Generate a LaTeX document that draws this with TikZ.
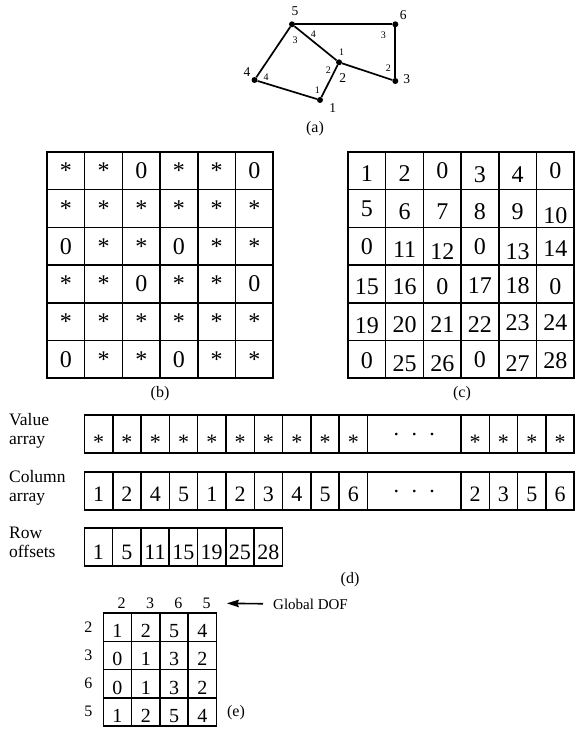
\documentclass[tikz,border=0pt]{standalone}
\usepackage{fontspec}
\setmainfont{Liberation Serif}
\usetikzlibrary{arrows.meta}
\newcommand\myfs[1]{\fontsize{#1}{#1}\selectfont}
\begin{document}
\begin{tikzpicture}[x=1pt,y=-1pt,
  gridln/.style={line width=1.5pt},
  vtx/.style={circle,fill=black,inner sep=0pt,minimum size=6pt},
  gedge/.style={line width=1.7pt},
  nlab/.style={inner sep=0pt,font=\myfs{13.5}},
  slab/.style={inner sep=0pt,font=\myfs{10}},
  caplab/.style={inner sep=0pt,font=\myfs{16}},
  mtxt/.style={inner sep=0pt,anchor=base,font=\myfs{24}},
  atxt/.style={inner sep=0pt,anchor=base,font=\myfs{22}},
  etxt/.style={inner sep=0pt,anchor=base,font=\myfs{20}},
  rowlbl/.style={inner sep=0pt,anchor=base west,font=\myfs{17.5}},
  dof/.style={inner sep=0pt,anchor=base,font=\myfs{16}},
  dofarrow/.style={line width=1.6pt,-{Stealth[length=12pt,width=7.5pt,inset=1.5pt]}},
]
\useasboundingbox (0,0) rectangle (576,730);

% ---------------- (a) graph ----------------
\node[vtx] (n5) at (292,24.3) {};
\node[vtx] (n6) at (395.3,24.3) {};
\node[vtx] (n3) at (395.3,81) {};
\node[vtx] (nc) at (339,62.3) {};
\node[vtx] (nb) at (320,100) {};
\node[vtx] (n4) at (254.5,80) {};
\draw[gedge] (n5) -- (n6);
\draw[gedge] (n6) -- (n3);
\draw[gedge] (n3) -- (nc);
\draw[gedge] (nc) -- (n5);
\draw[gedge] (nc) -- (nb);
\draw[gedge] (nb) -- (n4);
\draw[gedge] (n4) -- (n5);
\node[nlab] (l5) at (295,10.7) {5};
\node[nlab] (l6) at (403.3,15) {6};
\node[nlab] (l3) at (406.7,79.3) {3};
\node[nlab] (l1) at (332.7,108.3) {1};
\node[nlab] (l4) at (247,72) {4};
\node[slab] (s1) at (295,40) {3};
\node[slab] (s2) at (313.3,34) {4};
\node[slab] (s3) at (341.7,52.3) {1};
\node[slab] (s4) at (328.3,70) {2};
\node[nlab] (s5) at (342.7,78.3) {2};
\node[slab] (s6) at (383.3,35) {3};
\node[slab] (s7) at (388.3,68.3) {2};
\node[slab] (s8) at (317.3,90) {1};
\node[slab] (s9) at (266,77.3) {4};
\node[caplab] (capa) at (315,128.3) {(a)};

% ---------------- (b) matrix ----------------
\draw[gridln] (47,152) rectangle (273.2,378.2);
\foreach \i in {1,...,5}{
  \draw[gridln] ({47+\i*37.7},152) -- ({47+\i*37.7},378.2);
  \draw[gridln] (47,{152+\i*37.7}) -- (273.2,{152+\i*37.7});
}
\foreach \row [count=\r from 0] in {{*,*,0,*,*,0},{*,*,*,*,*,*},{0,*,*,0,*,*},{*,*,0,*,*,0},{*,*,*,*,*,*},{0,*,*,0,*,*}}{
  \foreach \v [count=\c from 0] in \row {
    \node[mtxt] (b-\r-\c) at ({47+18.85+\c*37.7},{152+18.85+\r*37.7+8}) {\v};
  }
}
\node[caplab] (capb) at (160,394) {(b)};

% ---------------- (c) matrix ----------------
\draw[gridln] (348,152) rectangle (574.2,378.2);
\foreach \i in {1,...,5}{
  \draw[gridln] ({348+\i*37.7},152) -- ({348+\i*37.7},378.2);
  \draw[gridln] (348,{152+\i*37.7}) -- (574.2,{152+\i*37.7});
}
\foreach \row [count=\r from 0] in {
  {1/3,2/3,0/0,3/4,4/4,0/0},
  {5/0,6/3,7/3,8/3,9/3,10/7},
  {0/0,11/3,12/5,0/0,13/5,14/2},
  {15/3,16/3,0/3,17/2,18/2,0/3},
  {19/4,20/3,21/3,22/3,23/1,24/1},
  {0/1,25/4,26/4,0/0,27/4,28/1}}{
  \foreach \v/\dy [count=\c from 0] in \row {
    \node[mtxt] (c-\r-\c) at ({348+18.85+\c*37.7},{152+18.85+\r*37.7+8+\dy}) {\v};
  }
}
\node[caplab] (capc) at (462,394) {(c)};

% ---------------- (d) arrays ----------------
\node[rowlbl] (vl1) at (9,425.5) {Value};
\node[rowlbl] (vl2) at (9,444) {array};
\node[rowlbl] (cl1) at (9,482.5) {Column};
\node[rowlbl] (cl2) at (9,501) {array};
\node[rowlbl] (rl1) at (9,538.3) {Row};
\node[rowlbl] (rl2) at (9,557) {offsets};

% value array
\draw[gridln] (84.5,415) rectangle (574.2,453);
\foreach \i in {1,...,10} \draw[gridln] ({84.5+\i*28.3},415) -- ({84.5+\i*28.3},453);
\foreach \i in {0,...,3} \draw[gridln] ({461+\i*28.3},415) -- ({461+\i*28.3},453);
\foreach \i in {0,...,9} \node[atxt] (va-\i) at ({84.5+14.15+\i*28.3},449.3) {*};
\foreach \i in {0,...,3} \node[atxt] (vb-\i) at ({461+14.15+\i*28.3},449.3) {*};
\node[atxt] (vdots) at (414.25,435) {.\hspace{12.5pt}.\hspace{12.5pt}.};

% column array
\draw[gridln] (84.5,472) rectangle (574.2,510);
\foreach \i in {1,...,10} \draw[gridln] ({84.5+\i*28.3},472) -- ({84.5+\i*28.3},510);
\foreach \i in {0,...,3} \draw[gridln] ({461+\i*28.3},472) -- ({461+\i*28.3},510);
\foreach \v [count=\i from 0] in {1,2,4,5,1,2,3,4,5,6}
  \node[atxt] (ca-\i) at ({84.5+14.15+\i*28.3},501) {\v};
\foreach \v [count=\i from 0] in {2,3,5,6}
  \node[atxt] (cb-\i) at ({461+14.15+\i*28.3},501) {\v};
\node[atxt] (cdots) at (414.25,492) {.\hspace{12.5pt}.\hspace{12.5pt}.};

% row offsets
\draw[gridln] (84.3,528) rectangle ({84.3+7*28.3},566);
\foreach \i in {1,...,6} \draw[gridln] ({84.3+\i*28.3},528) -- ({84.3+\i*28.3},566);
\foreach \v [count=\i from 0] in {1,5,11,15,19,25,28}
  \node[atxt] (ro-\i) at ({84.3+14.15+\i*28.3},559) {\v};

\node[caplab] (capd) at (350,580) {(d)};

% ---------------- (e) matrix ----------------
\draw[gridln] (103.3,613) rectangle ({103.3+4*28.3},{613+4*28.3});
\foreach \i in {1,...,3}{
  \draw[gridln] ({103.3+\i*28.3},613) -- ({103.3+\i*28.3},{613+4*28.3});
  \draw[gridln] (103.3,{613+\i*28.3}) -- ({103.3+4*28.3},{613+\i*28.3});
}
\foreach \row [count=\r from 0] in {{1,2,5,4},{0,1,3,2},{0,1,3,2},{1,2,5,4}}{
  \foreach \v [count=\c from 0] in \row {
    \node[etxt] (e-\r-\c) at ({103.3+14.15+\c*28.3},{613+14.15+\r*28.3+10.5}) {\v};
  }
}
\foreach \v/\x [count=\i from 0] in {2/121.7,3/150,6/178.3,5/206.7}
  \node[dof] (ecol-\i) at (\x,608.3) {\v};
\foreach \v/\y [count=\i from 0] in {2/632,3/660,6/688,5/716.5}
  \node[dof] (erow-\i) at (88.3,\y) {\v};
\node[dof,anchor=base west,font=\myfs{15}] (gdof) at (273,609) {Global DOF};
\draw[dofarrow,shorten <=10pt,shorten >=16pt] (gdof.west) -- (ecol-3.east);
\node[caplab] (cape) at (236,712.5) {(e)};
\end{tikzpicture}
\end{document}
